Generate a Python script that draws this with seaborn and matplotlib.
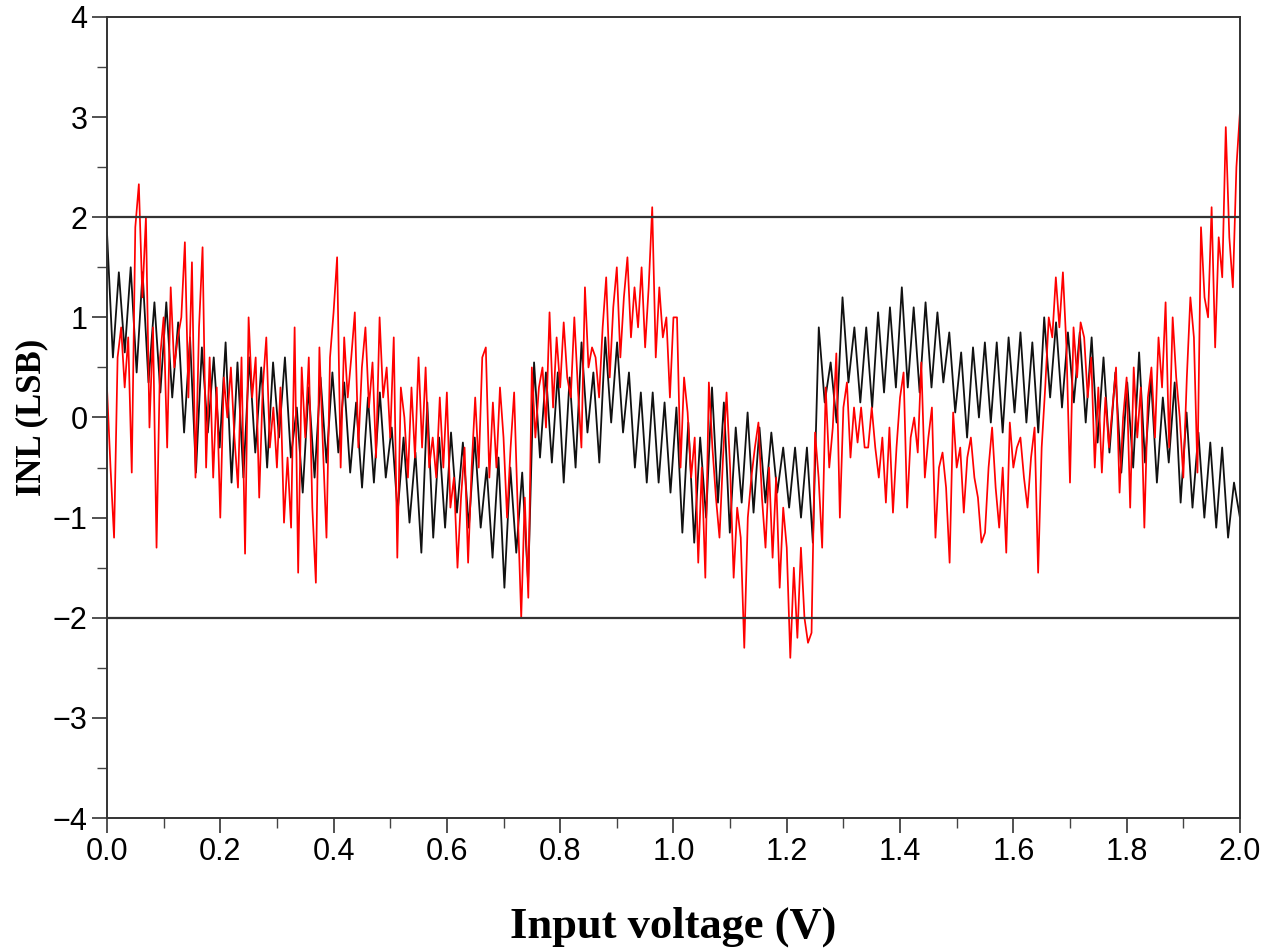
import numpy as np
import matplotlib
matplotlib.use("Agg")
import matplotlib.pyplot as plt
import seaborn as sns
from matplotlib.ticker import MultipleLocator, FormatStrFormatter

# black trace: one peak / one trough per code period (96 periods over 0-2 V)
black_peak = [1.85, 1.45, 1.5, 1.45, 1.15, 1.15, 0.95, 0.8, 0.7, 0.6, 0.75, 0.55, 0.6, 0.5, 0.55, 0.6,
              0.1, 0.3, 0.4, 0.45, 0.35, 0.15, 0.2, 0.25, -0.1, -0.2, -0.35, 0.15, -0.2, -0.15, -0.25, -0.2,
              -0.5, -0.4, -0.5, -0.55, 0.55, 0.45, 0.45, 0.4, 0.75, 0.45, 0.8, 0.75, 0.45, 0.25, 0.25, 0.15,
              0.1, -0.05, -0.2, 0.3, 0.15, -0.1, 0.05, -0.1, -0.15, -0.3, -0.3, -0.3, 0.9, 0.55, 1.2, 0.9,
              0.9, 1.05, 1.1, 1.3, 1.1, 1.15, 1.05, 0.85, 0.65, 0.7, 0.75, 0.75, 0.8, 0.85, 0.75, 1.0,
              0.95, 0.85, 0.85, 0.8, 0.6, 0.45, 0.35, 0.65, 0.4, 0.2, 0.35, 0.05, -0.15, -0.25, -0.3, -0.65]
black_trough = [0.6, 0.65, 0.45, 0.35, 0.25, 0.2, -0.15, -0.55, -0.15, -0.3, -0.65, -0.6, -0.35, -0.5, -0.2, -0.4,
                -0.75, -0.6, -0.45, -0.35, -0.55, -0.7, -0.65, -0.6, -0.95, -1.05, -1.35, -1.2, -1.1, -0.95, -1.1, -1.1,
                -1.4, -1.7, -1.35, -1.65, -0.4, -0.45, -0.65, -0.5, -0.15, -0.45, -0.05, -0.15, -0.5, -0.65, -0.65, -0.75,
                -1.15, -1.25, -1.0, -0.85, -1.15, -0.85, -0.95, -0.85, -0.75, -0.9, -1.0, -1.25, 0.15, -0.05, 0.35, 0.15,
                0.1, 0.25, 0.3, 0.3, 0.25, 0.3, 0.35, 0.05, -0.2, 0.0, -0.05, -0.15, 0.05, -0.05, -0.15, 0.2,
                0.1, 0.15, -0.05, -0.25, -0.35, -0.55, -0.5, -0.45, -0.65, -0.45, -0.85, -0.9, -1.0, -1.1, -1.2, -1.0]

red_inl = [0.3, -0.5, -1.2, 0.6, 0.9, 0.3, 0.8, -0.55, 1.9, 2.33,
           1.2, 2.0, -0.1, 0.9, -1.3, 0.6, 1.0, -0.3, 1.3, 0.5,
           0.8, 1.0, 1.75, 0.2, 1.55, -0.6, 0.9, 1.7, -0.5, 0.6,
           -0.6, 0.3, -1.0, 0.4, 0.0, 0.5, -0.2, -0.7, 0.6, -1.36,
           1.0, 0.2, 0.6, -0.8, 0.3, 0.8, -0.3, 0.1, -0.5, 0.3,
           -1.05, -0.4, -1.1, 0.9,
           -1.55, 0.5, -0.2, 0.6, -0.9, -1.65, 0.7, -0.3, -1.2, 0.6,
           1.05, 1.6, -0.5, 0.8, 0.2, 0.6, 1.05, -0.3, 0.5, 0.9,
           0.1, 0.55, -0.4, 1.0, 0.2, 0.5, -0.2, 0.8, -1.4, 0.3,
           0.0, -0.6, 0.3, -0.4, 0.6, -0.3, 0.5, -0.5, -0.2, -0.6,
           0.2, -0.5, 0.25, -0.9, -0.6, -1.5, -0.8, -0.3, -1.45, -0.5,
           0.2, -0.5, 0.6,
           0.7, -0.6, 0.15, -0.5, 0.3, -0.2, -1.0, -0.3, 0.25, -0.9,
           -2.0, -0.8, -1.8, 0.5, -0.2, 0.3, 0.5, -0.1, 1.05, 0.1,
           0.8, 0.3, 0.95, 0.4, 0.2, 1.0, 0.3, -0.3, 1.3, 0.5,
           0.7, 0.6, 0.2, 0.9, 1.4, 0.4, 1.1, 1.5, 0.6, 1.2,
           1.6, 0.8, 1.3, 0.9, 1.5, 0.7, 1.3, 2.1, 0.6, 1.3,
           0.8, 1.0, 0.2, 1.0,
           1.0, -0.5, 0.4, 0.05, -0.6, -0.2, -1.45, -0.5, -1.6, 0.35,
           -0.3, -0.8, -1.2, -0.4, 0.25, -0.5, -1.6, -0.9, -1.2, -2.3,
           -1.0, -0.6, -0.3, -0.05, -0.8, -1.3, -0.5, -1.4, -0.6, -1.7,
           -0.9, -1.3, -2.4, -1.5, -2.2, -1.3, -2.0, -2.25, -2.15, -0.15,
           -0.6, -1.3, 0.3, -0.5, -0.1, 0.64, -1.0, 0.1, 0.35, -0.4,
           0.1, -0.25, 0.1, -0.3,
           -0.3, 0.1, -0.3, -0.6, -0.2, -0.85, -0.1, -0.95, -0.3, 0.2,
           0.45, -0.9, -0.2, 0.0, -0.35, 0.55, -0.6, -0.2, 0.1, -1.2,
           -0.5, -0.35, -0.7, -1.45, 0.05, -0.5, -0.3, -0.95, -0.4, -0.2,
           -0.6, -0.8, -1.25, -1.15, -0.5, -0.1, -0.7, -1.1, -0.5, -1.35,
           -0.05, -0.5, -0.3, -0.2, -0.6, -0.9, -0.4, -0.1, -1.55, -0.3,
           0.3, 1.0, 0.8, 1.4,
           0.9, 1.45, 0.7, -0.65, 0.9, 0.4, 0.95, 0.8, 0.2, 0.6,
           -0.5, 0.3, -0.55, 0.2, -0.3, 0.1, 0.5, -0.75, 0.0, 0.4,
           -0.9, 0.5, -0.2, 0.3, -1.1, 0.2, 0.5, -0.2, 0.8, 0.3,
           1.15, -0.3, 1.0, 0.4, 0.0, -0.6, 0.4, 1.2, 0.8, -0.55,
           1.9, 1.2, 1.0, 2.1, 0.7, 1.8, 1.4, 2.9, 1.8, 1.3,
           2.5, 3.05]

limit_lines = [2, -2]
v_range = (0.0, 2.0)

black_inl = np.column_stack([black_peak, black_trough]).ravel()
x_black = np.linspace(v_range[0], v_range[1], len(black_inl))
x_red = np.linspace(v_range[0], v_range[1], len(red_inl))

sns.set_theme(style="ticks")
plt.rcParams['font.family'] = ['Liberation Sans', 'DejaVu Sans']

fig = plt.figure(figsize=(12.69, 9.48), dpi=100)
ax = fig.add_axes([0.0843, 0.1371, 0.8928, 0.845])

sns.lineplot(x=x_black, y=black_inl, ax=ax, color='#111111', lw=1.3, estimator=None, sort=False)
sns.lineplot(x=x_red, y=red_inl, ax=ax, color='#ff0000', lw=1.25, estimator=None, sort=False)
for lim in limit_lines:
    ax.axhline(lim, color='#333333', lw=1.6, zorder=3)

ax.set_xlim(*v_range)
ax.set_ylim(-4, 4)
ax.xaxis.set_major_locator(MultipleLocator(0.2))
ax.xaxis.set_minor_locator(MultipleLocator(0.1))
ax.xaxis.set_major_formatter(FormatStrFormatter('%.1f'))
ax.yaxis.set_major_locator(MultipleLocator(1))
ax.yaxis.set_minor_locator(MultipleLocator(0.5))

ax.tick_params(axis='both', which='major', direction='out', length=11, width=1.1,
               labelsize=22, pad=3, colors='#222222', labelcolor='black')
ax.tick_params(axis='both', which='minor', direction='out', length=7, width=1.0, colors='#444444')
ax.tick_params(top=False, right=False, which='both')

for sp in ax.spines.values():
    sp.set_color('#333333')
    sp.set_linewidth(1.4)

ax.set_xlabel("Input voltage (V)", fontsize=32, fontweight='bold', color='black',
              family=['Liberation Serif', 'DejaVu Serif'])
ax.set_ylabel("INL (LSB)", fontsize=25, fontweight='bold', color='black',
              family=['Liberation Serif', 'DejaVu Serif'])
ax.xaxis.set_label_coords(0.5, -0.11)
ax.yaxis.set_label_coords(-0.052, 0.5)

fig.savefig("out.png", dpi=100)
